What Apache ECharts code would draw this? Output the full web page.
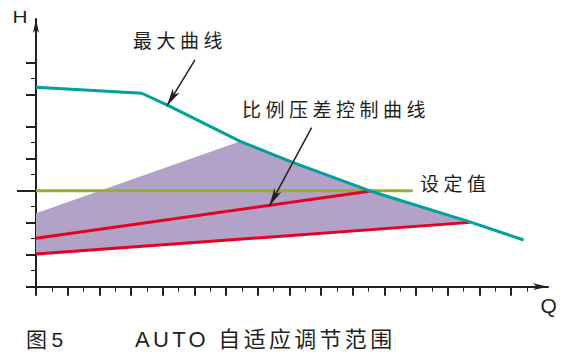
<!DOCTYPE html>
<html>
<head>
<meta charset="utf-8">
<script src="https://cdn.jsdelivr.net/npm/echarts@6/dist/echarts.min.js"></script>
<style>
html,body{margin:0;padding:0;background:#fff;}
#chart{width:570px;height:360px;}
#chart text{letter-spacing:4.5px;}
#chart text[style*="22px"]{letter-spacing:3.3px;}
#chart text[style*="16px"], #chart text[style*="20px"]{letter-spacing:0;}
</style>
</head>
<body>
<div id="chart"></div>
<script>
// ---- tick values (axis units) ----
const xMajorTicks = [0,2,4,6,8,10,12,14,16,18,20,22,24,26,28,30];
const xMinorTicks = [1,3,5,7,9,11,13,15,17,19,21,23,25,27,29,31];
const yMajorTicks = [0,2,4,8,10,12,14];
const yMinorTicks = [1,3,5,7,9,13];
const ySetTick = [6];

// ---- curves (Q, H) ----
const maxCurve = [[0,12.46],[6.68,12.09],[8.3,11.35],[12.9,9.08],[16.25,7.75],[21.05,6.0],[27.4,4.05],[30.8,2.92]];
const setValueLine = [[0,6],[23.8,6]];
const propUpper = [[0,3.03],[21.05,5.97]];
const propLower = [[0,2.04],[27.4,4.02]];
const autoRange = [[0,4.59],[12.86,9.07],[16.25,7.75],[21.05,6.0],[27.4,4.05],[27.4,4.02],[0,2.04]];

// ---- annotation arrows [from, to] ----
const annotationArrows = [
  [[10.04,14.17],[8.26,11.29]],
  [[17.41,9.94],[14.74,5.04]]
];

const ink = '#231f20';
const teal = '#00a19b';
const red = '#e60021';
const green = '#93b02c';
const purple = '#b3a2c8';
const fam = '"Liberation Sans","Noto Sans CJK SC",sans-serif';

function txt(text, x, y, size, sx) {
  return {
    type: 'text', x: x, y: y, scaleX: sx || 1, silent: true,
    style: {
      text: text, font: size + 'px ' + fam, fill: ink,
      textAlign: 'left', textVerticalAlign: 'middle',
      align: 'left', verticalAlign: 'middle'
    }
  };
}

const X_MAX = 32.34, Y_MAX = 16.73;

function xAx(ticks, len, w, line) {
  return {
    type: 'value', min: 0, max: X_MAX, position: 'bottom',
    axisLine: line ? { show: true, onZero: false, lineStyle: { color: ink, width: 2 }, symbol: ['none','arrow'], symbolSize: [5,15] } : { show: false },
    axisTick: { show: true, customValues: ticks, length: len, lineStyle: { color: ink, width: w } },
    axisLabel: { show: false }, splitLine: { show: false }
  };
}
function yAx(ticks, len, w, line) {
  return {
    type: 'value', min: 0, max: Y_MAX, position: 'left',
    axisLine: line ? { show: true, onZero: false, lineStyle: { color: ink, width: 2 }, symbol: ['none','arrow'], symbolSize: [4.5,14] } : { show: false },
    axisTick: { show: true, customValues: ticks, length: len, lineStyle: { color: ink, width: w } },
    axisLabel: { show: false }, splitLine: { show: false }
  };
}

const chart = echarts.init(document.getElementById('chart'), null, { renderer: 'svg' });
chart.setOption({
  animation: false,
  backgroundColor: '#fff',
  grid: { left: 36, right: 22, top: 19, bottom: 73.3 },
  xAxis: [xAx(xMajorTicks, 9, 2, true), xAx(xMinorTicks, 5, 1, false)],
  yAxis: [yAx(yMajorTicks, 10, 2, true), yAx(yMinorTicks, 5, 1, false), yAx(ySetTick, 19, 2, false)],
  series: [
    {
      type: 'custom', z: 1, silent: true,
      data: autoRange,
      encode: { x: 0, y: 1 },
      renderItem: function (params, api) {
        if (params.dataIndex !== 0) return null;
        const pts = autoRange.map(function (p) { return api.coord(p); });
        return { type: 'polygon', shape: { points: pts }, style: { fill: purple } };
      }
    },
    { type: 'line', z: 2, data: setValueLine, symbol: 'none', silent: true, lineStyle: { color: green, width: 3 } },
    { type: 'line', z: 3, data: propUpper, symbol: 'none', silent: true, lineStyle: { color: red, width: 3 } },
    { type: 'line', z: 3, data: propLower, symbol: 'none', silent: true, lineStyle: { color: red, width: 3 } },
    {
      type: 'line', z: 4, data: maxCurve, symbol: 'none', silent: true, lineStyle: { color: teal, width: 3 },
      markLine: {
        silent: true, symbol: ['none','arrow'], symbolSize: [6,18],
        label: { show: false },
        lineStyle: { color: ink, width: 1.5, type: 'solid' },
        data: annotationArrows.map(function (a) { return [{ coord: a[0] }, { coord: a[1] }]; })
      }
    }
  ],
  graphic: [
    txt('H', 12.5, 17.5, 16, 1.3),
    txt('Q', 540.5, 305.5, 20, 1.05),
    txt('最大曲线', 133, 41, 19),
    txt('比例压差控制曲线', 242, 110, 19),
    txt('设定值', 420, 184, 19),
    txt('图5', 26, 339, 21),
    txt('AUTO 自适应调节范围', 135, 339, 22)
  ]
});
</script>
</body>
</html>
